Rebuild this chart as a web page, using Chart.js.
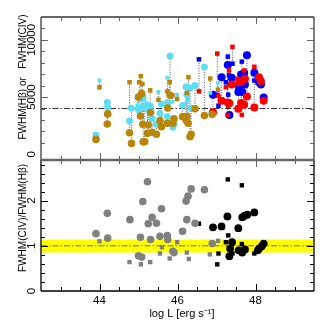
<!DOCTYPE html>
<html>
<head>
<meta charset="utf-8">
<script src="https://cdn.jsdelivr.net/npm/chart.js@4.4.0/dist/chart.umd.min.js"></script>
<style>
html, body { margin: 0; padding: 0; background: #fff; }
#wrap { position: relative; width: 332px; height: 332px; }
canvas { position: absolute; left: 0; top: 0; }
</style>
</head>
<body>
<div id="wrap">
<canvas id="topChart" width="332" height="332"></canvas>
<canvas id="botChart" width="332" height="332"></canvas>
</div>
<script>
// ---- top panel: FWHM(Hb) and FWHM(CIV), low-L sample (brown / cyan)
var lowCircLogL = [43.91, 44.20, 44.21, 44.77, 44.82, 45.00, 45.05, 45.08, 45.11, 45.12, 45.16, 45.23, 45.25, 45.31, 45.35, 45.46, 45.55, 45.59, 45.74, 45.75, 45.81, 45.88, 45.91, 46.13, 46.22, 46.24, 46.27, 46.32, 46.35, 46.45, 46.69, 46.89];
var lowCircHb   = [1300, 2650, 3530, 1880, 950, 5000, 3350, 5300, 2620, 1090, 1090, 1830, 2560, 3650, 1920, 1740, 2950, 2400, 2710, 4035, 5150, 2710, 3100, 3290, 3000, 3300, 2710, 1530, 1740, 3975, 3380, 3500];
var lowCircCiv  = [1680, 4530, 4090, 2910, 4030, 3900, 3975, 4100, 5060, 4830, 4180, 4330, 3885, 4177, 3100, 2600, 3590, 4390, 3290, 4530, 8590, 2360, 2650, 4270, 5890, 5200, 5800, 5800, 4035, 6000, 7620, 3680];

var lowSqLogL = [44.00, 44.77, 44.97, 45.02, 45.06, 45.10, 45.30, 45.51, 45.74, 45.80, 45.87, 45.99, 46.24, 46.28, 46.84, 47.04];
var lowSqHb   = [5850, 6300, 4970, 6300, 6830, 6150, 5590, 4770, 5500, 6300, 5150, 4830, 5360, 6740, 6620, 5650];
var lowSqCiv  = [6450, 4090, 4250, 4700, 4030, 5000, 3580, 5450, 6680, 4530, 4600, 5210, 4560, 4800, 5360, 6240];

// ---- top panel: high-L sample (red = Hb, blue = CIV)
var highCircLogL = [46.91, 47.13, 47.29, 47.33, 47.39, 47.56, 47.58, 47.63, 47.71, 47.73, 47.78, 47.97, 48.09, 48.14, 48.21, 47.66];
var highCircHb   = [3680, 4680, 4530, 4460, 6090, 3975, 6300, 4480, 4330, 6600, 5060, 4090, 6740, 6380, 4680, 6400];
var highCircCiv  = [5210, 6740, 7800, 3440, 6680, 5450, 5940, 6980, 7100, 6090, 8650, 7120, 6300, 6090, 4970, 5450];

var highSqLogL = [46.55, 47.02, 47.05, 47.24, 47.29, 47.30, 47.32, 47.41, 47.54, 47.65, 47.71, 47.97];
var highSqHb   = [5500, 8800, 5100, 5855, 3440, 4240, 7330, 9390, 6600, 3440, 7330, 7650];
var highSqCiv  = [8300, 5200, 4240, 6300, 8540, 5210, 6900, 7920, 5900, 8100, 6830, 6446];

// ---- bottom panel: FWHM(CIV)/FWHM(Hb)
var ratLowCircLogL = [43.91, 44.20, 44.21, 44.78, 45.00, 45.05, 45.08, 45.11, 45.23, 45.25, 45.31, 45.35, 45.46, 45.55, 45.59, 45.74, 45.75, 45.88, 45.91, 46.13, 46.22, 46.24, 46.27, 46.35, 46.45, 46.69, 46.89];
var ratLowCirc     = [1.27, 1.72, 1.17, 1.58, 0.78, 1.19, 0.75, 1.98, 2.42, 1.49, 1.14, 1.63, 1.50, 1.21, 1.82, 1.23, 1.14, 0.88, 0.85, 1.32, 1.99, 1.58, 2.10, 2.26, 1.50, 2.24, 1.05];
var ratLowSqLogL = [44.00, 44.77, 45.06, 45.30, 45.55, 45.60, 45.80, 45.99, 46.24, 46.29, 46.83, 47.04];
var ratLowSq     = [1.10, 0.64, 0.59, 0.64, 0.83, 0.97, 0.72, 1.08, 0.85, 0.71, 0.81, 1.11];
var ratHighCircLogL = [46.91, 47.13, 47.28, 47.33, 47.35, 47.40, 47.56, 47.57, 47.66, 47.66, 47.71, 47.73, 47.79, 47.97, 48.06, 48.09, 48.16, 48.21];
var ratHighCirc     = [1.41, 1.43, 1.65, 0.77, 0.94, 1.08, 1.39, 0.90, 1.63, 0.85, 1.66, 0.92, 1.69, 1.74, 0.90, 0.94, 0.99, 1.05];
var ratHighSqLogL = [46.55, 47.02, 47.05, 47.24, 47.29, 47.30, 47.32, 47.41, 47.54, 47.65, 47.65, 47.65, 47.97];
var ratHighSq     = [1.49, 0.59, 0.83, 1.08, 2.47, 1.23, 0.94, 0.83, 0.89, 2.34, 1.04, 0.83, 0.83];

var xRange = [42.5, 49.5];
var xTickLabels = [44, 46, 48];
var topRange = [-500, 12000];
var topTickLabels = [0, 5000, 10000];
var botRange = [0, 2.9];
var botTickLabels = [0, 1, 2];
var popBoundary = 4000;
var ratioBand = [0.85, 1.14];

var BROWN = '#b8860b', CYAN = '#5ddcf2', RED = '#ff0000', BLUE = '#0000ff';
var FONT = '"Liberation Sans", Arial, sans-serif';

function pts(xs, ys) {
	var out = [];
	for (var i = 0; i < xs.length; i++) out.push({x: xs[i], y: ys[i]});
	return out;
}
function links(xs, a, b) {
	var out = [];
	for (var i = 0; i < xs.length; i++) {
		out.push({x: xs[i], y: a[i]});
		out.push({x: xs[i], y: b[i]});
		out.push({x: xs[i], y: null});
	}
	return out;
}
function markers(data, style, color, r, extra) {
	var ds = {data: data, pointStyle: style, pointRadius: r, pointHoverRadius: r,
		pointBackgroundColor: color, pointBorderWidth: 0, showLine: false};
	if (extra) { ds.pointBorderWidth = 1; ds.pointBorderColor = extra; }
	return ds;
}
function hline(y, color) {
	return {data: [{x: xRange[0], y: y}, {x: xRange[1], y: y}], showLine: true, pointRadius: 0,
		borderColor: color, borderWidth: 1, borderDash: [6, 2, 1.5, 2]};
}

function vtext(ctx, text, x, y, font) {
	ctx.save();
	ctx.translate(x, y);
	ctx.rotate(-Math.PI / 2);
	ctx.font = font;
	ctx.textAlign = 'center';
	ctx.textBaseline = 'middle';
	ctx.fillText(text, 0, 0);
	ctx.restore();
}

// frame, inward ticks and labels, all placed through the chart scales
function framePlugin(p) {
	return {
		id: 'frame',
		afterDatasetsDraw: function(chart) {
			var ctx = chart.ctx, a = chart.chartArea;
			var xs = chart.scales.x, ys = chart.scales.y;
			ctx.save();
			ctx.lineWidth = 1;
			// x ticks
			for (var v = 43; v <= 49.01; v += 0.5) {
				var px = Math.round(xs.getPixelForValue(v)) + 0.5;
				var len = (xTickLabels.indexOf(v) >= 0) ? 7 : 4;
				ctx.strokeStyle = p.topTickColor;
				ctx.beginPath(); ctx.moveTo(px, a.top); ctx.lineTo(px, a.top + len); ctx.stroke();
				ctx.strokeStyle = p.bottomTickColor;
				ctx.beginPath(); ctx.moveTo(px, a.bottom); ctx.lineTo(px, a.bottom - len); ctx.stroke();
			}
			// y ticks
			ctx.strokeStyle = p.tickColor;
			for (var k = 1; k * p.minor < ys.max; k++) {
				var val = k * p.minor;
				var py = Math.round(ys.getPixelForValue(val)) + 0.5;
				var major = p.labels.indexOf(Math.round(val * 1000) / 1000) >= 0;
				var l = major ? 7 : 4;
				ctx.beginPath(); ctx.moveTo(a.left, py); ctx.lineTo(a.left + l, py); ctx.stroke();
				ctx.beginPath(); ctx.moveTo(a.right, py); ctx.lineTo(a.right - l, py); ctx.stroke();
			}
			// frame
			ctx.strokeStyle = p.frameColor;
			ctx.lineWidth = p.frameWidth;
			ctx.beginPath();
			ctx.moveTo(a.left, a.top); ctx.lineTo(a.left, a.bottom);
			ctx.moveTo(a.right, a.top); ctx.lineTo(a.right, a.bottom);
			ctx.moveTo(a.left, a.bottom); ctx.lineTo(a.right, a.bottom);
			ctx.stroke();
			ctx.strokeStyle = p.topEdgeColor;
			ctx.lineWidth = p.topEdgeWidth;
			ctx.beginPath(); ctx.moveTo(a.left, a.top); ctx.lineTo(a.right, a.top); ctx.stroke();
			// y labels and title
			ctx.fillStyle = '#000';
			for (var j = 0; j < p.labels.length; j++) {
				vtext(ctx, String(p.labels[j]), 32, ys.getPixelForValue(p.labels[j]), '11.5px ' + FONT);
			}
			vtext(ctx, p.title, 23, p.titleY, '10px ' + FONT);
			// x labels and title
			if (p.xLabels) {
				ctx.font = '11.5px ' + FONT;
				ctx.textAlign = 'center';
				ctx.textBaseline = 'middle';
				for (var m = 0; m < xTickLabels.length; m++) {
					ctx.fillText(String(xTickLabels[m]), xs.getPixelForValue(xTickLabels[m]), 301);
				}
				ctx.font = '11px ' + FONT;
				ctx.fillText('log L [erg s\u207B\u00B9]', 182, 314);
			}
			ctx.restore();
		}
	};
}

function baseOptions(pad, yr) {
	return {
		responsive: false, animation: false, devicePixelRatio: 1,
		layout: {padding: pad},
		plugins: {legend: {display: false}, tooltip: {enabled: false}},
		scales: {
			x: {type: 'linear', display: false, min: xRange[0], max: xRange[1]},
			y: {type: 'linear', display: false, min: yr[0], max: yr[1]}
		}
	};
}

var lowLinks = links(lowCircLogL, lowCircHb, lowCircCiv).concat(links(lowSqLogL, lowSqHb, lowSqCiv));
var highLinks = links(highCircLogL, highCircHb, highCircCiv).concat(links(highSqLogL, highSqHb, highSqCiv));

new Chart(document.getElementById('topChart'), {
	type: 'scatter',
	data: {
		datasets: [
			markers(pts(lowCircLogL, lowCircHb), 'circle', BROWN, 3.8),
			markers(pts(lowSqLogL, lowSqHb), 'rect', BROWN, 3.2),
			markers(pts(highCircLogL, highCircHb), 'circle', RED, 4.0),
			markers(pts(highSqLogL, highSqHb), 'rect', RED, 3.2),
			markers(pts(lowCircLogL, lowCircCiv), 'circle', CYAN, 3.3, 'rgba(93,220,242,0.45)'),
			markers(pts(lowSqLogL, lowSqCiv), 'rect', CYAN, 2.4, 'rgba(93,220,242,0.45)'),
			markers(pts(highCircLogL, highCircCiv), 'circle', BLUE, 4.0),
			markers(pts(highSqLogL, highSqCiv), 'rect', BLUE, 3.2),
			{data: lowLinks, showLine: true, spanGaps: false, pointRadius: 0, borderColor: '#555', borderWidth: 1, borderDash: [1, 1.5]},
			{data: highLinks, showLine: true, spanGaps: false, pointRadius: 0, borderColor: '#555', borderWidth: 1, borderDash: [1, 1.5]},
			hline(popBoundary, '#333')
		]
	},
	options: baseOptions({left: 41, right: 18, top: 17, bottom: 172}, topRange),
	plugins: [framePlugin({minor: 1000, labels: topTickLabels, tickColor: '#666', topTickColor: '#666', bottomTickColor: '#666',
		frameColor: '#555', frameWidth: 1.5, topEdgeColor: '#666', topEdgeWidth: 2,
		title: 'FWHM(H\u03B2) or   FWHM(CIV)', titleY: 77, xLabels: false})]
});

new Chart(document.getElementById('botChart'), {
	type: 'scatter',
	data: {
		datasets: [
			markers(pts(ratLowCircLogL, ratLowCirc), 'circle', '#808080', 3.8),
			markers(pts(ratLowSqLogL, ratLowSq), 'rect', '#808080', 3.1),
			markers(pts(ratHighCircLogL, ratHighCirc), 'circle', '#000', 3.9),
			markers(pts(ratHighSqLogL, ratHighSq), 'rect', '#000', 3.1),
			hline(1, '#6b6b2a'),
			{data: [{x: xRange[0], y: ratioBand[1]}, {x: xRange[1], y: ratioBand[1]}], showLine: true, pointRadius: 0,
				borderWidth: 0, backgroundColor: '#ffff00', fill: '+1'},
			{data: [{x: xRange[0], y: ratioBand[0]}, {x: xRange[1], y: ratioBand[0]}], showLine: true, pointRadius: 0,
				borderWidth: 0}
		]
	},
	options: baseOptions({left: 41, right: 18, top: 160, bottom: 41}, botRange),
	plugins: [framePlugin({minor: 0.2, labels: botTickLabels, tickColor: '#000', topTickColor: '#666', bottomTickColor: '#000',
		frameColor: '#000', frameWidth: 1.3, topEdgeColor: '#666', topEdgeWidth: 2.5,
		title: 'FWHM(CIV)/FWHM(H\u03B2)', titleY: 218, xLabels: true})]
});
</script>
</body>
</html>
